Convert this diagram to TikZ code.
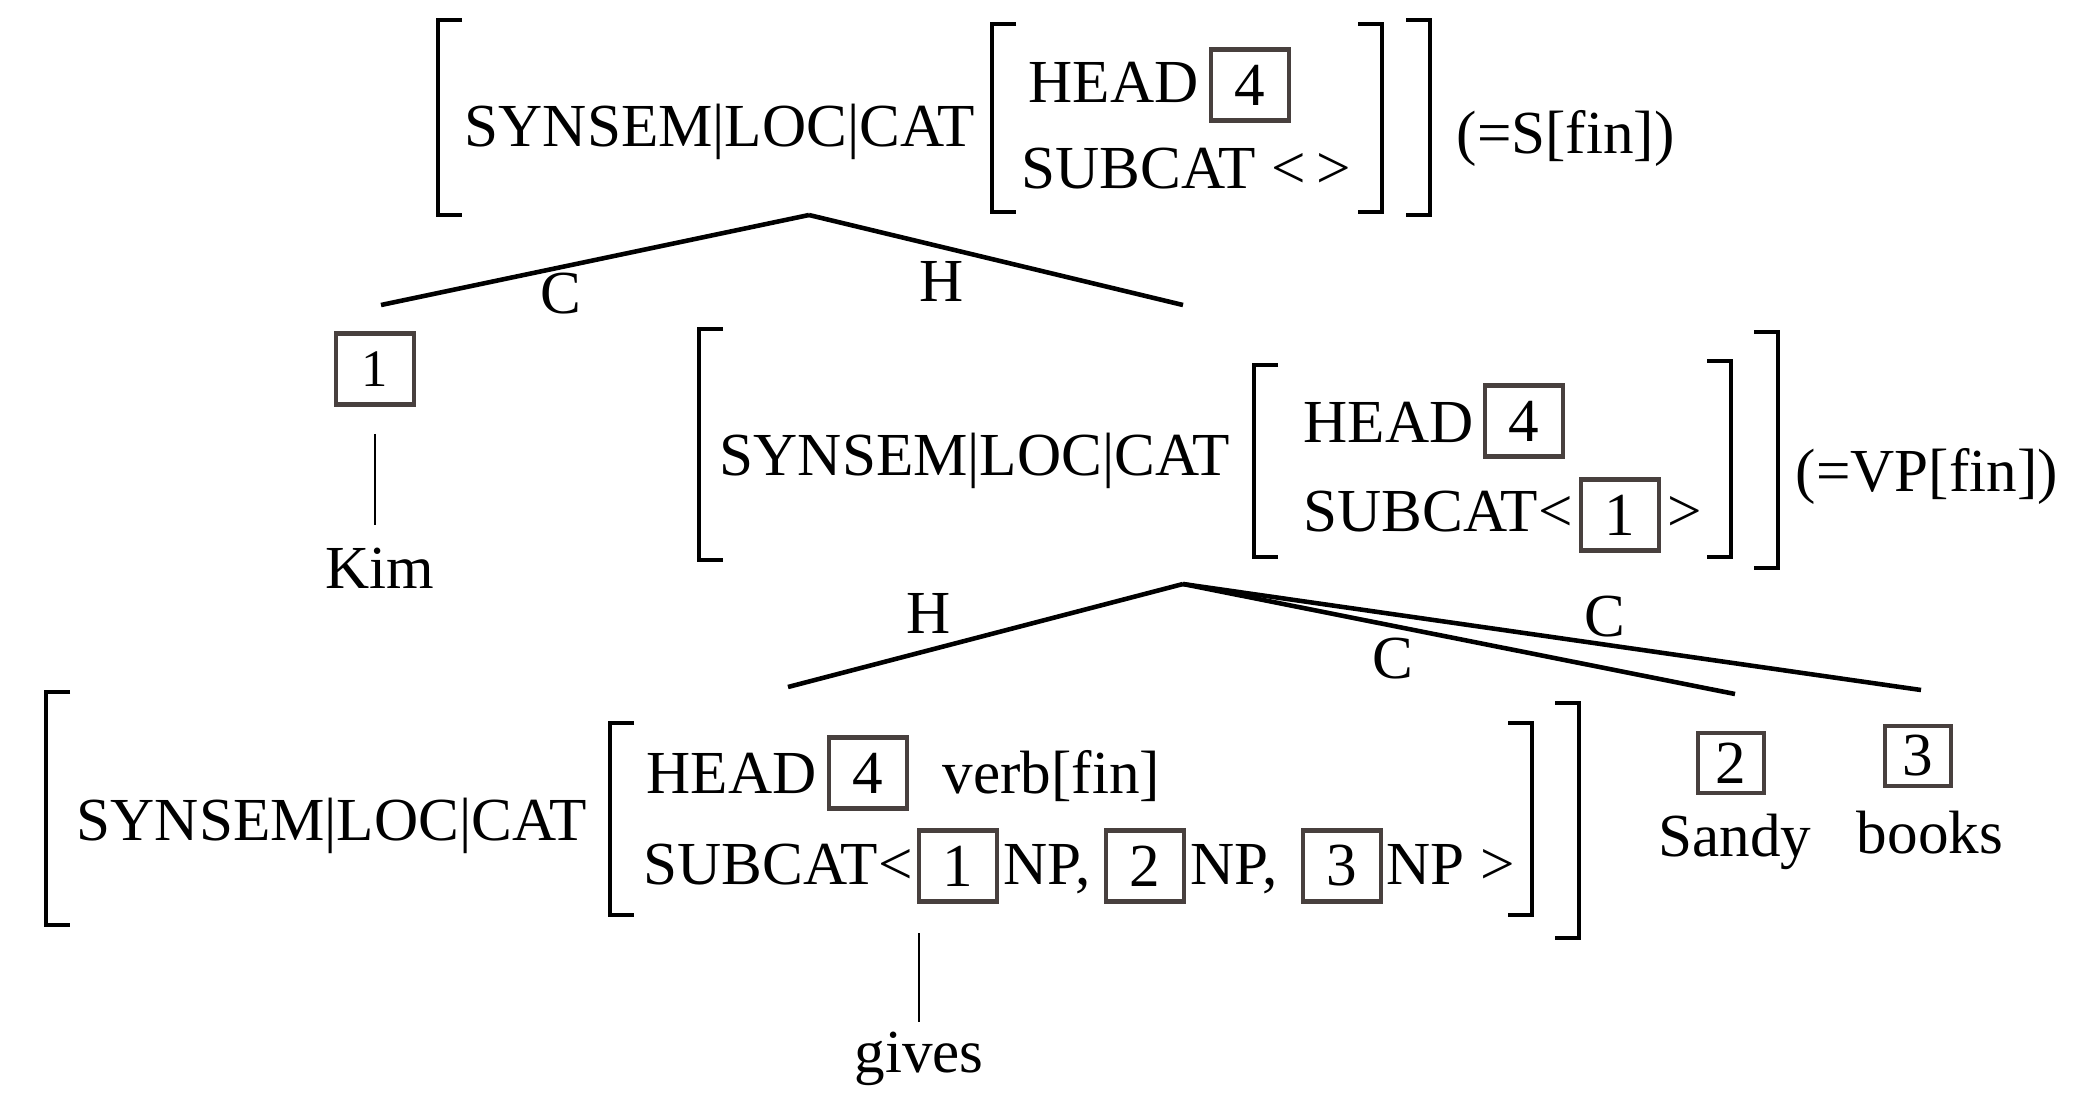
\documentclass[tikz,border=0pt]{standalone}
\usepackage{fontspec}
\setmainfont{Liberation Serif}
\usepackage{tikz}

\definecolor{tagline}{RGB}{72,64,62}
\tikzset{
  feat/.style={anchor=base west, inner sep=0pt},
  word/.style={anchor=base, inner sep=0pt},
  tagbox/.style={draw=tagline, line width=1.3pt, inner sep=0pt, minimum width=0.78cm, minimum height=0.71cm},
  smalltag/.style={tagbox, minimum width=0.66cm, minimum height=0.60cm},
  brack/.style={line width=1.1pt},
  branch/.style={line width=1.3pt},
  stem/.style={line width=0.8pt},
  lbl/.style={inner sep=0pt}
}

\begin{document}
\begin{tikzpicture}[every node/.style={font=\fontsize{17.4}{21}\selectfont}]
  \useasboundingbox (0,0) rectangle (20.8,-10.96);

  \draw [brack] (4.62,-0.20) -| (4.38,-2.15) -- ++(0.24,0);
  \draw [brack] (10.16,-0.24) -| (9.92,-2.12) -- ++(0.24,0);
  \draw [brack] (13.58,-0.24) -| (13.82,-2.12) -- ++(-0.24,0);
  \draw [brack] (14.06,-0.20) -| (14.30,-2.15) -- ++(-0.24,0);
  \node [feat] (sfeat) at (4.64,-1.46) {SYNSEM|LOC|CAT};
  \node [feat] (shead) at (10.28,-1.02) {HEAD};
  \node [tagbox] (stag4) at (12.50,-0.85) {4};
  \node [feat] (ssubcat) at (10.21,-1.88) {SUBCAT <\,>};
  \node [feat] (slabel) at (14.56,-1.53) {(=S[fin])};

  \coordinate (sroot) at (8.09,-2.15);
  \coordinate (kimtop) at (3.81,-3.05);
  \coordinate (vptop) at (11.83,-3.05);
  \draw [branch] (sroot) -- (kimtop);
  \draw [branch] (sroot) -- (vptop);
  \node [lbl] (sc) at (5.61,-2.94) {C};
  \node [lbl] (sh) at (9.42,-2.81) {H};

  \node [tagbox, font=\fontsize{15}{18}\selectfont] (kimtag) at (3.75,-3.69) {1};
  \node [word] (kim) at (3.80,-5.88) {Kim};
  \draw [stem, shorten <=0.27cm, shorten >=0.22cm] (kimtag.south) -- (kimtag.south |- kim.north);

  \draw [brack] (7.23,-3.29) -| (6.99,-5.60) -- ++(0.24,0);
  \draw [brack] (12.78,-3.65) -| (12.54,-5.57) -- ++(0.24,0);
  \draw [brack] (17.07,-3.61) -| (17.31,-5.57) -- ++(-0.24,0);
  \draw [brack] (17.54,-3.32) -| (17.78,-5.68) -- ++(-0.24,0);
  \node [feat] (vpfeat) at (7.19,-4.75) {SYNSEM|LOC|CAT};
  \node [feat] (vphead) at (13.03,-4.42) {HEAD};
  \node [tagbox] (vptag4) at (15.24,-4.21) {4};
  \node [feat] (vpsubcat) at (13.03,-5.31) {SUBCAT<};
  \node [tagbox] (vptag1) at (16.20,-5.15) {1};
  \node [feat] (vpclose) at (16.67,-5.31) {>};
  \node [feat] (vplabel) at (17.95,-4.91) {(=VP[fin])};

  \coordinate (vproot) at (11.83,-5.84);
  \coordinate (verbtop) at (7.88,-6.87);
  \coordinate (sandytop) at (17.35,-6.94);
  \coordinate (bookstop) at (19.21,-6.90);
  \draw [branch] (vproot) -- (verbtop);
  \draw [branch] (vproot) -- (sandytop);
  \draw [branch] (vproot) -- (bookstop);
  \node [lbl] (vph) at (9.29,-6.13) {H};
  \node [lbl] (vpc1) at (13.93,-6.59) {C};
  \node [lbl] (vpc2) at (16.05,-6.17) {C};

  \draw [brack] (0.70,-6.92) -| (0.46,-9.25) -- ++(0.24,0);
  \draw [brack] (6.34,-7.23) -| (6.10,-9.15) -- ++(0.24,0);
  \draw [brack] (15.08,-7.23) -| (15.32,-9.15) -- ++(-0.24,0);
  \draw [brack] (15.55,-7.03) -| (15.79,-9.38) -- ++(-0.24,0);
  \node [feat] (vfeat) at (0.76,-8.40) {SYNSEM|LOC|CAT};
  \node [feat] (vhead) at (6.46,-7.93) {HEAD};
  \node [tagbox] (vtag4) at (8.68,-7.73) {4};
  \node [feat] (vtype) at (9.42,-7.93) {verb[fin]};
  \node [feat] (vsubcat) at (6.43,-8.84) {SUBCAT<};
  \node [tagbox] (vtag1) at (9.58,-8.66) {1};
  \node [feat] (vnp1) at (10.03,-8.84) {NP,};
  \node [tagbox] (vtag2) at (11.45,-8.66) {2};
  \node [feat] (vnp2) at (11.90,-8.84) {NP,};
  \node [tagbox] (vtag3) at (13.42,-8.66) {3};
  \node [feat] (vnp3) at (13.86,-8.84) {NP >};

  \coordinate (verbfoot) at (9.19,-9.33);
  \node [word] (gives) at (9.19,-10.72) {gives};
  \draw [stem, shorten >=0.09cm] (verbfoot) -- (gives);

  \node [smalltag] (sandytag) at (17.31,-7.63) {2};
  \node [word] (sandy) at (17.35,-8.56) {Sandy};
  \node [smalltag] (bookstag) at (19.18,-7.56) {3};
  \node [word] (books) at (19.30,-8.53) {books};
\end{tikzpicture}
\end{document}
